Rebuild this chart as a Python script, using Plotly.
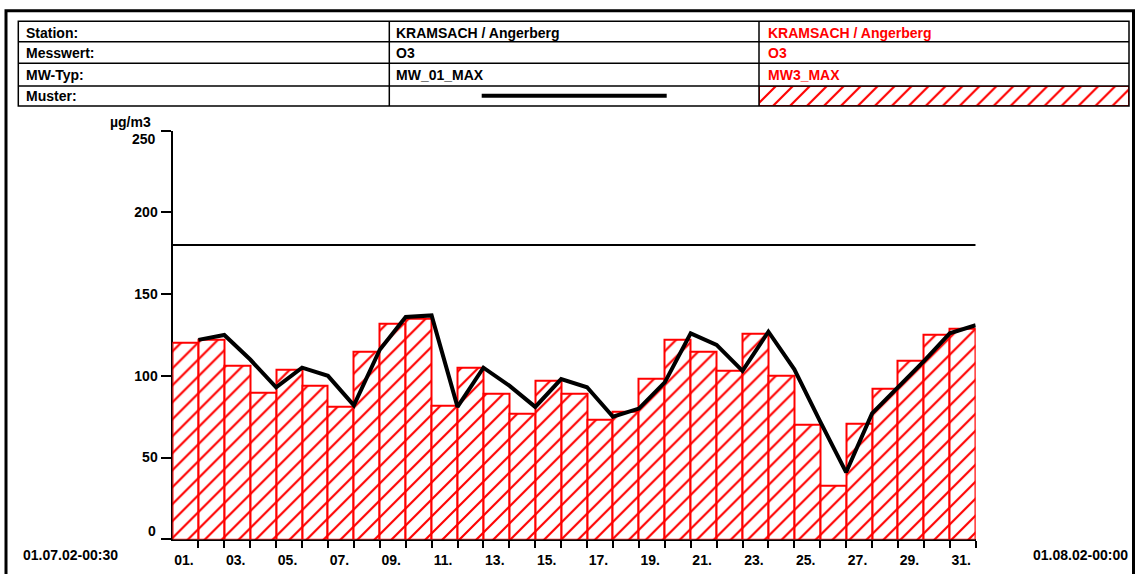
import plotly.graph_objects as go

# ---------------------------------------------------------------- data
days = list(range(1, 32))

# daily maximum of the 3-hour mean (bars) and of the 1-hour mean (line), µg/m3
mw3_max = [120, 122, 106, 90, 104, 94, 81, 115, 132, 135, 82, 105, 89, 77, 97, 89,
           73, 78, 98, 122, 115, 103, 126, 100, 70, 33, 71, 92, 109, 125, 129]
mw01_max = [122, 125, 110, 93, 105, 100, 82, 116, 136, 137, 81, 105, 94, 81, 98, 93,
            75, 80, 96, 126, 119, 103, 127, 104, 72, 41, 77, 93, 109, 126, 131]

threshold = 180

day_labels = ["01.", "03.", "05.", "07.", "09.", "11.", "13.", "15.", "17.", "19.",
              "21.", "23.", "25.", "27.", "29.", "31."]
y_ticks = [0, 50, 100, 150, 200, 250]

period_start = "01.07.02-00:30"
period_end = "01.08.02-00:00"
unit = "µg/m3"

row_titles = ["Station:", "Messwert:", "MW-Typ:", "Muster:"]
series_line_info = ["KRAMSACH / Angerberg", "O3", "MW_01_MAX"]
series_bar_info = ["KRAMSACH / Angerberg", "O3", "MW3_MAX"]

# ---------------------------------------------------------------- styling
W, H = 1136, 574
RED = "#ff0000"
FONT = "Liberation Sans, Arial, sans-serif"


def fx(x):
    return x / W


def fy(y):
    return 1 - y / H


hatch = dict(shape="/", size=12, solidity=0.18, fgcolor=RED, fgopacity=1,
             bgcolor="white", fillmode="overlay")

fig = go.Figure()

# bars: one per day, spanning the whole day
fig.add_trace(go.Bar(
    x=[d - 0.5 for d in days], y=mw3_max, width=1,
    marker=dict(color="white", pattern=hatch, line=dict(color=RED, width=2)),
    xaxis="x", yaxis="y", showlegend=False, hoverinfo="skip",
))

# limit value line
fig.add_trace(go.Scatter(
    x=[0, len(days)], y=[threshold, threshold], mode="lines",
    line=dict(color="black", width=2), xaxis="x", yaxis="y", showlegend=False,
))

# daily 1-hour maximum, plotted at the end of each day
fig.add_trace(go.Scatter(
    x=days, y=mw01_max, mode="lines",
    line=dict(color="black", width=4), xaxis="x", yaxis="y", showlegend=False,
))

# hatched swatch in the header table
fig.add_trace(go.Bar(
    x=[0.5], y=[1], width=1,
    marker=dict(color="white", pattern=hatch, line=dict(color=RED, width=2)),
    xaxis="x3", yaxis="y3", showlegend=False, hoverinfo="skip",
))

tick_font = dict(family=FONT, size=14, color="black", weight="bold")

# inner y tick labels are drawn by the axis; the two end labels sit slightly inside
y_ticktext = ["" if v in (y_ticks[0], y_ticks[-1]) else str(v) for v in y_ticks]

fig.update_layout(
    width=W, height=H,
    margin=dict(l=0, r=0, t=0, b=0, autoexpand=False),
    paper_bgcolor="white", plot_bgcolor="white",
    bargap=0,
    xaxis=dict(
        domain=[fx(172.5), fx(975.7)], range=[0, len(days)], automargin=False,
        showline=True, linecolor="black", linewidth=2, layer="below traces",
        showgrid=False, zeroline=False,
        tickmode="array", tickvals=[int(l[:2]) - 0.56 for l in day_labels],
        ticktext=day_labels, ticks="outside", ticklen=7, tickcolor="rgba(0,0,0,0)",
        tickfont=tick_font,
        minor=dict(tickmode="array", tickvals=days, ticks="outside", ticklen=7,
                   tickwidth=2, tickcolor="black", showgrid=False),
    ),
    yaxis=dict(
        domain=[fy(539.3), fy(130.7)], range=[0, 250], automargin=False,
        showline=True, linecolor="black", linewidth=2, layer="below traces",
        showgrid=False, zeroline=False,
        tickmode="array", tickvals=y_ticks, ticktext=y_ticktext,
        ticks="outside", ticklen=10, tickwidth=2, tickcolor="black",
        tickfont=tick_font,
    ),
    xaxis3=dict(domain=[fx(759), fx(1129)], range=[0, 1], visible=False,
                anchor="y3", fixedrange=True, automargin=False),
    yaxis3=dict(domain=[fy(106), fy(86)], range=[0, 1], visible=False,
                anchor="x3", fixedrange=True, automargin=False),
)

shapes = []
# outer frame
shapes.append(dict(type="rect", xref="paper", yref="paper",
                   x0=fx(6), x1=fx(1133.5), y0=fy(590), y1=fy(10.7),
                   line=dict(color="black", width=3)))
# header table
tl, tr = 18.3, 1129
row_edges = [21.3, 41.7, 63.3, 86, 106]
col_edges = [389.3, 759]
shapes.append(dict(type="rect", xref="paper", yref="paper",
                   x0=fx(tl), x1=fx(tr), y0=fy(row_edges[-1]), y1=fy(row_edges[0]),
                   line=dict(color="black", width=1.5)))
for yy in row_edges[1:-1]:
    shapes.append(dict(type="line", xref="paper", yref="paper",
                       x0=fx(tl), x1=fx(tr), y0=fy(yy), y1=fy(yy),
                       line=dict(color="black", width=1.5)))
for xx in col_edges:
    shapes.append(dict(type="line", xref="paper", yref="paper",
                       x0=fx(xx), x1=fx(xx), y0=fy(row_edges[-1]), y1=fy(row_edges[0]),
                       line=dict(color="black", width=1.5)))
# line sample in the "Muster" row
shapes.append(dict(type="line", xref="paper", yref="paper",
                   x0=fx(481.7), x1=fx(666.7), y0=fy(95.7), y1=fy(95.7),
                   line=dict(color="black", width=4)))
fig.update_layout(shapes=shapes)

ann = []
text_font = dict(family=FONT, size=14, color="black", weight="bold")
red_font = dict(family=FONT, size=14, color=RED, weight="bold")
cap_centers = [32.5, 53.5, 75, 96]
for i, t in enumerate(row_titles):
    ann.append(dict(text=t, x=fx(24), y=fy(cap_centers[i]), xref="paper", yref="paper",
                    xanchor="left", yanchor="middle", showarrow=False, font=text_font))
for i, t in enumerate(series_line_info):
    ann.append(dict(text=t, x=fx(394), y=fy(cap_centers[i]), xref="paper", yref="paper",
                    xanchor="left", yanchor="middle", showarrow=False, font=text_font))
for i, t in enumerate(series_bar_info):
    ann.append(dict(text=t, x=fx(766), y=fy(cap_centers[i]), xref="paper", yref="paper",
                    xanchor="left", yanchor="middle", showarrow=False, font=red_font))

# end labels of the y axis, nudged inward
ann.append(dict(text=str(y_ticks[0]), x=fx(158), y=y_ticks[0], xref="paper", yref="y",
                xanchor="right", yanchor="middle", yshift=8, showarrow=False,
                font=tick_font))
ann.append(dict(text=str(y_ticks[-1]), x=fx(158), y=y_ticks[-1], xref="paper", yref="y",
                xanchor="right", yanchor="middle", yshift=-8, showarrow=False,
                font=tick_font))

ann.append(dict(text=unit, x=fx(153), y=fy(122), xref="paper", yref="paper",
                xanchor="right", yanchor="middle", showarrow=False, font=tick_font))
ann.append(dict(text=period_start, x=fx(70), y=fy(555), xref="paper", yref="paper",
                xanchor="center", yanchor="middle", showarrow=False, font=tick_font))
ann.append(dict(text=period_end, x=fx(1080), y=fy(555), xref="paper", yref="paper",
                xanchor="center", yanchor="middle", showarrow=False, font=tick_font))
fig.update_layout(annotations=ann)

fig.write_html("out.html")
